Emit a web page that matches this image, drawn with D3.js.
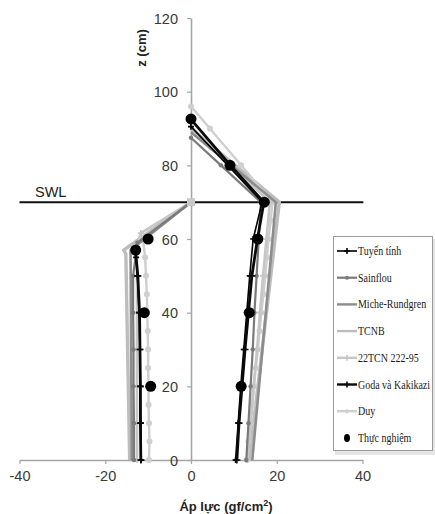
<!DOCTYPE html>
<html><head><meta charset="utf-8">
<script src="https://cdn.jsdelivr.net/npm/d3@7"></script>
<style>body{margin:0;background:#fff}svg{display:block}</style>
</head><body>
<svg id="c" width="435" height="514"></svg>
<script>
// ---------- data ----------
const seriesNames = ["Tuyến tính","Sainflou","Miche-Rundgren","TCNB","22TCN 222-95","Goda và Kakikazi","Duy","Thực nghiệm"];
const xTicks = [-40,-20,0,20,40];
const yTicks = [0,20,40,60,80,100,120];
const swlLevel = 70;

// each point: [pressure (gf/cm2), z (cm)]
const tuyenTinhFront = [[10.4,0],[11.0,10],[11.6,20],[12.3,30],[13.0,40],[13.7,50],[14.5,60],[16.6,70],[8.6,80],[0,90.5]];
const tuyenTinhBack  = [[-11.6,0],[-11.7,10],[-11.8,20],[-11.9,30],[-12.1,40],[-12.5,50],[-12.8,55]];
const sainflouFront  = [[12.9,0],[13.4,10],[13.9,20],[14.4,30],[14.8,40],[15.3,50],[15.8,60],[16.3,70],[7.0,80],[0,87.5]];
const sainflouBack   = [[-13.3,0],[-13.3,10],[-13.4,20],[-13.4,30],[-13.5,40],[-13.5,50],[-12.5,59],[0,70]];
const micheFront     = [[14.3,0],[19.8,70],[0,89]];
const micheBack      = [[-13.8,0],[-14.1,57],[0,70]];
const tcnbFront      = [[13.6,0],[20.6,70],[0,90]];
const tcnbBack       = [[-14.3,0],[-15.2,56],[-15.7,57],[0,70]];
const tcn22Front     = [[13.2,0],[13.9,10],[14.6,20],[15.4,30],[16.1,40],[16.8,50],[17.6,60],[18.4,70],[9.5,80],[0,90.5]];
const tcn22Back      = [[-12.6,0],[-12.6,10],[-12.6,20],[-12.6,30],[-12.6,40],[-12.6,50],[-12.6,58],[-11.7,61.6],[0,70]];
const godaFront      = [[10.7,0],[11.2,10],[11.9,20],[12.6,30],[13.4,40],[14.2,50],[15.5,60],[17.0,70],[9.2,80],[0,92.5]];
const godaBack       = [[-11.7,0],[-11.8,10],[-11.8,20],[-11.9,30],[-12.0,40],[-12.4,50],[-12.9,56]];
const duyFront       = [[13.0,0],[13.4,5],[13.9,10],[14.3,15],[14.7,20],[15.1,25],[15.6,30],[16.0,35],[16.4,40],[16.9,45],[17.3,50],[17.7,55],[18.1,60],[18.6,65],[19.0,70],[11.7,80],[4.4,90],[0,96]];
const duyBack        = [[-9.8,0],[-9.7,5],[-9.8,10],[-9.9,15],[-9.9,20],[-10.0,25],[-10.0,30],[-10.1,35],[-10.2,40],[-10.3,45],[-10.5,50],[-10.7,55],[-11.2,60],[0,70]];
const thucNghiem     = [[0,92.6],[9.1,80],[17.1,70],[15.6,60],[13.6,40],[11.7,20],[-10,60],[-12.9,57],[-10.9,40],[-9.4,20]];

// ---------- styles ----------
const styleOf = {
  "Tuyến tính":       {color:"#000000", width:1.6, marker:"plus", msize:3},
  "Sainflou":         {color:"#7a7a7a", width:2.2, marker:"dot",  msize:2.2},
  "Miche-Rundgren":   {color:"#8c8c8c", width:2.6, marker:null},
  "TCNB":             {color:"#bdbdbd", width:3.4, marker:null},
  "22TCN 222-95":     {color:"#c6c6c6", width:2.6, marker:"plus", msize:3},
  "Goda và Kakikazi": {color:"#0a0a0a", width:2.8, marker:"plus", msize:3.5},
  "Duy":              {color:"#cfcfcf", width:2.4, marker:"dot",  msize:3},
  "Thực nghiệm":      {color:"#000000", marker:"big", msize:5.5}
};
const seriesData = {
  "Tuyến tính": [tuyenTinhFront, tuyenTinhBack],
  "Sainflou": [sainflouFront, sainflouBack],
  "Miche-Rundgren": [micheFront, micheBack],
  "TCNB": [tcnbFront, tcnbBack],
  "22TCN 222-95": [tcn22Front, tcn22Back],
  "Goda và Kakikazi": [godaFront, godaBack],
  "Duy": [duyFront, duyBack]
};
const drawOrder = ["TCNB","Duy","22TCN 222-95","Miche-Rundgren","Sainflou","Tuyến tính","Goda và Kakikazi"];

// ---------- chart ----------
const svg = d3.select("#c");
const x = d3.scaleLinear().domain([-40,40]).range([19.5,362.5]);
const y = d3.scaleLinear().domain([0,120]).range([460,18]);
const axisColor = "#a6a6a6";
const labelFont = "'Liberation Sans', Arial, sans-serif";

// x axis
const gx = svg.append("g").attr("transform",`translate(0,${y(0)})`)
  .call(d3.axisBottom(x).tickValues(xTicks).tickSize(4).tickSizeOuter(0).tickPadding(7).tickFormat(d=>String(d)));
// y axis
const gy = svg.append("g").attr("transform",`translate(${x(0)},0)`)
  .call(d3.axisLeft(y).tickValues(yTicks).tickSize(4).tickSizeOuter(0).tickPadding(9).tickFormat(d=>String(d)));
[gx,gy].forEach(g=>{
  g.select(".domain").attr("stroke",axisColor).attr("stroke-width",1.6);
  g.selectAll(".tick line").attr("stroke",axisColor).attr("stroke-width",1.2);
  g.selectAll(".tick text").attr("fill","#3a3a3a").style("font-family",labelFont).style("font-size","14.5px");
});
gy.selectAll(".tick text").attr("dy","0.35em");

// axis titles
const xt = svg.append("text").attr("x",226).attr("y",511).attr("text-anchor","middle")
  .style("font-family",labelFont).style("font-size","13px").style("font-weight","bold").attr("fill","#222");
xt.append("tspan").text("Áp lực (gf/cm");
xt.append("tspan").attr("baseline-shift","super").style("font-size","9px").text("2");
xt.append("tspan").text(")");
svg.append("text").attr("transform","translate(146,48) rotate(-90)").attr("text-anchor","middle")
  .style("font-family",labelFont).style("font-size","13px").style("font-weight","bold").attr("fill","#222")
  .text("z (cm)");

// SWL line
svg.append("line").attr("x1",x(-40)).attr("x2",x(40.2)).attr("y1",y(swlLevel)).attr("y2",y(swlLevel))
  .attr("stroke","#111").attr("stroke-width",2);
svg.append("text").attr("x",35).attr("y",197).style("font-family",labelFont).style("font-size","14.5px")
  .attr("fill","#222").text("SWL");

// series
const line = d3.line().x(d=>x(d[0])).y(d=>y(d[1]));
function drawMarker(g, st, px, py){
  if(st.marker==="plus"){
    const s=st.msize;
    g.append("path").attr("d",`M${px-s},${py}H${px+s}M${px},${py-s}V${py+s}`)
      .attr("stroke",st.color).attr("stroke-width",1.6).attr("fill","none");
  } else if(st.marker==="dot" || st.marker==="big"){
    g.append("circle").attr("cx",px).attr("cy",py).attr("r",st.msize).attr("fill",st.color);
  }
}
const gs = svg.append("g");
drawOrder.forEach(name=>{
  const st = styleOf[name];
  const g = gs.append("g");
  seriesData[name].forEach(arr=>{
    g.append("path").datum(arr).attr("d",line).attr("fill","none")
      .attr("stroke",st.color).attr("stroke-width",st.width).attr("stroke-linejoin","round");
    if(st.marker) arr.forEach(d=>drawMarker(g,st,x(d[0]),y(d[1])));
  });
});
// square marker at SWL on axis
svg.append("rect").attr("x",x(0)-4).attr("y",y(swlLevel)-4).attr("width",8).attr("height",8).attr("fill","#c8c8c8");
// experimental points
const ge = svg.append("g");
thucNghiem.forEach(d=>drawMarker(ge,styleOf["Thực nghiệm"],x(d[0]),y(d[1])));

// legend
const lg = svg.append("g");
lg.append("rect").attr("x",335).attr("y",239).attr("width",100).attr("height",216).attr("fill","#e6e6e6");
lg.append("rect").attr("x",333.5).attr("y",236.5).attr("width",99).attr("height",214).attr("fill","#fff")
  .attr("stroke","#9a9a9a").attr("stroke-width",1);
seriesNames.forEach((name,i)=>{
  const st = styleOf[name];
  const cy = 251 + i*26.7;
  const item = lg.append("g");
  if(st.marker!=="big"){
    item.append("line").attr("x1",337).attr("x2",357).attr("y1",cy).attr("y2",cy)
      .attr("stroke",st.color).attr("stroke-width",Math.min(st.width,2.4));
  }
  if(st.marker==="big") item.append("ellipse").attr("cx",347).attr("cy",cy).attr("rx",3).attr("ry",4).attr("fill","#000");
  else if(st.marker) drawMarker(item,Object.assign({},st,{msize:st.marker==="dot"?2:3}),347,cy);
  item.append("text").attr("transform",`translate(358,${cy+4}) scale(0.8,1)`)
    .style("font-family","'Liberation Serif','Times New Roman',serif").style("font-size","12.5px")
    .attr("fill","#222").text(name);
});
</script>
</body></html>
